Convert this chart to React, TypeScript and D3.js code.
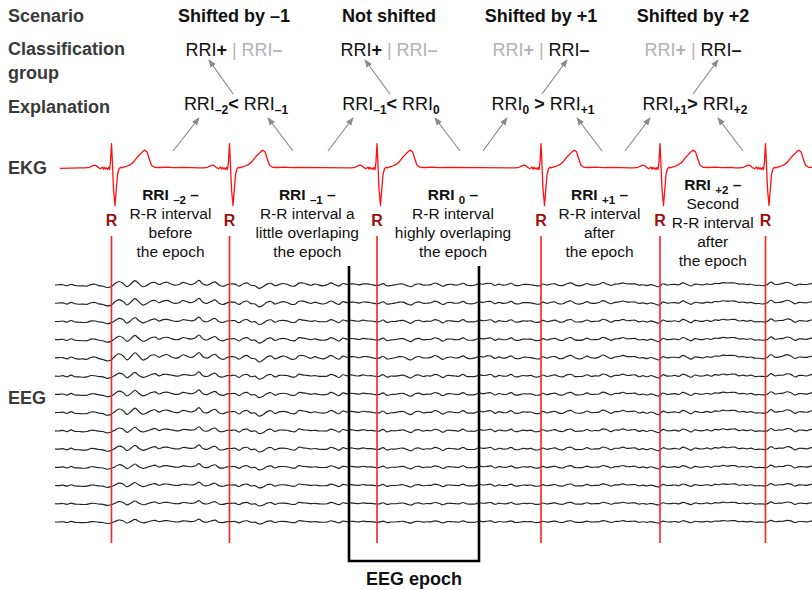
import React from 'react';
import * as d3 from 'd3';

// R peak times (seconds from start of recording) and EEG epoch window
const rPeaks = [0.565, 1.745, 3.22, 4.86, 6.05, 7.105];
const epochWindow = [2.94, 4.24];
const ekgStart = 0.05;
const tEnd = 7.57;

// one heartbeat around the R peak: [offset s, mV]
const beatTemplate: [number, number][] = [
  [-0.30, 0.02], [-0.26, 0.02], [-0.22, 0.05], [-0.19, 0.12], [-0.17, 0.15], [-0.15, 0.12],
  [-0.13, 0.03], [-0.11, -0.02], [-0.09, 0.06], [-0.08, -0.04], [-0.07, 0.05], [-0.06, -0.03],
  [-0.05, 0.02], [-0.04, -0.05], [-0.03, 0.04], [-0.02, -0.06], [-0.01, 0.3], [-0.005, 0.8],
  [0, 1.2], [0.008, 0.4], [0.02, -1.0], [0.035, -1.8], [0.045, -1.2], [0.06, -0.3],
  [0.075, -0.02], [0.09, 0.05], [0.1, 0.02], [0.12, 0.06], [0.15, 0.1], [0.18, 0.15],
  [0.22, 0.3], [0.26, 0.55], [0.3, 0.75], [0.33, 0.88], [0.355, 0.8], [0.375, 0.5],
  [0.4, 0.15], [0.43, 0.05], [0.48, 0.04], [0.55, 0.06], [0.62, 0.03], [0.7, 0.05],
];

// EEG: two component waveforms sampled every 0.04 s, mixed per channel
const eegStep = 0.04;
const waveA = [
  0, 0.5, 0, -0.5, 0.3, -0.2, -0.8, -0.3, -1, 0, 0.8, -0.5, -1.2, -1.8, -1.5,
  1.5, 2.5, 1, -1, 1, 3, 1.5, -1.5, -0.5, 2, 1.5, 0.5, 1.5, 2.5, 0.5, -0.5, 0.5, 2.5, 1, 0, 1.5, 3, 1, 0, 1, 2, 0.5, -1, 0,
  1, 0.5, -0.5, 0.5, 1.5, 0, -1, -2.5, -1, 0.5, 1, -0.5, 0, 1.5, 0.5, -1, -0.5, 1, 2, 0.5, -0.5, 1, 0, -1, 0.5, 1.5, 0, -0.5, 1, 0.5,
  0.5, 1, 0, 0.5, 1.2, 0.3, -0.5, 0, 0.8, -0.3, -0.8, 0.2, 1, 0.5, -0.5, -1, 0, 0.8, 0.3, -0.4, 0.5, 1.5, 0.2, -0.5, 0, 0.6, -0.2, 0.4, 1, 0, -0.6, 0.3, 0.8,
  0.5, 1.5, 0.8, 0, 0.5, -0.3, 0.3, 1, 0, -0.5, 0.2, 0.6, -0.2, 0, -0.8,
  0.5, 0, 1, 0.5, -0.5, 0, 0.8, 1.5, 0.5, -1, 0, 1, 0.3, -0.5, 0.8, 1.8, 0.5, 0, 0.5, 1, 1.3, 1, 0.8, 0.5, 0.3, 0, -0.3, 0, -0.5, -1,
  0.5, 0, 0.6, 0.2, 0.5, 1.5, 0.3, -0.5, 0.3, 0.5, 0, 0.5, 0.8, 1, 1.2, 1.5, 1.8, 1.5, 1.2, 1, 0.8, 0.5, 0.2, 0, -0.3, -0.8,
  0.5, 2, 0.5, 0.3, 1.5, 2, 0.8, 0, 0.5, 0.2, 0.5, 0.8, 0.3,
];
const waveB = [
  0, -0.8, 0.6, -0.3, 0.9, -0.5, 0.2, -1, 0.4, 0.8, -0.6, 0.1, 0.7, -0.4, 0.3,
  -1.2, 0.5, 1.1, -0.7, -0.2, 0.9, -1.3, 0.4, 0.6, -0.9, 1.2, -0.3, 0.2, -1, 0.8,
  1, -0.5, -1.4, 0.3, 0.9, -0.2, 1.5, -0.8, -0.4, 0.6, 1.1, -1.2, 0.2, 0.7, -0.6,
  0.4, -1, 0.9, 0.3, -0.7, 1.3, -0.4, -1.1, 0.5, 0.8, -0.3, 1, -0.9, 0.1, 0.6,
  -0.5, 1.2, -1.3, 0.4, 0.9, -0.6, -0.2, 1.1, -0.8, 0.3, 0.7, -1, 0.5, -0.2, 0.9,
  -0.7, 0.3, 1, -1.1, 0.2, 0.6, -0.4, 0.8, -0.9, 1.2, -0.3, -0.6, 0.7, 0.1, -1,
  0.9, 0.4, -0.8, 1.1, -0.5, 0.2, 0.6, -1.2, 0.8, -0.1, 0.5, -0.7, 1, -0.4, 0.3,
  -0.9, 0.7, 0.2, -0.6, 1.1, -1, 0.4, 0.5, -0.3, 0.9, -0.8, 0.1, 0.6, -0.5, 1.2,
  -1.1, 0.3, 0.8, -0.4, -0.7, 1, 0.2, -0.9, 0.6, 0.4, -1.2, 0.9, -0.2, 0.5, -0.6,
  1.1, -0.8, 0.3, 0.7, -1, 0.4, -0.3, 0.9, -0.5, 0.2, 1, -1.1, 0.6, -0.4, 0.8,
  -0.2, -0.9, 1.2, 0.1, -0.6, 0.7, -1, 0.5, 0.3, -0.8, 1.1, -0.4, 0.2, 0.9, -1.2,
  0.6, -0.3, 0.8, -0.7, 0.4, 1, -0.9, 0.2, -0.5, 1.1, -0.6, 0.3, 0.7, -1, 0.5,
  -0.2, 0.9, -0.8, 0.4, 1.2, -1.1, 0.3, 0.6, -0.4, 0.8, -0.3,
];
const gainA = [1.0, 1.05, 0.85, 0.95, 1.2, 0.8, 0.9, 1.0, 0.75, 0.8, 0.7, 0.65, 0.6, 0.55];
const gainB = [0.35, 0.4, 0.55, 0.5, 0.4, 0.6, 0.5, 0.55, 0.6, 0.55, 0.5, 0.45, 0.4, 0.35];

// text
const scenarios = ['Shifted by –1', 'Not shifted', 'Shifted by +1', 'Shifted by +2'];
const plusActive = [true, true, false, false];
const explanations = [
  { a: '–2', op: '<', b: '–1' },
  { a: '–1', op: '<', b: '0' },
  { a: '0', op: ' >', b: '+1' },
  { a: '+1', op: '>', b: '+2' },
];
const intervalLabels = [
  { sub: '–2', lines: ['R-R interval', 'before', 'the epoch'] },
  { sub: '–1', lines: ['R-R interval a', 'little overlaping', 'the epoch'] },
  { sub: '0', lines: ['R-R interval', 'highly overlaping', 'the epoch'] },
  { sub: '+1', lines: ['R-R interval', 'after', 'the epoch'] },
  { sub: '+2', lines: ['Second', 'R-R interval', 'after', 'the epoch'] },
];
const intervalNudge = [0, 4, -6, -1, 0];

// layout
const W = 812;
const H = 590;
const colX = [234, 389, 541, 693];
const classArrows = [[233, 94, 209, 60], [390, 94, 365, 60], [542, 94, 567, 60], [693, 94, 718, 60]];
const ekgArrows = [
  [173, 151, 199, 118], [293, 151, 268, 118], [328, 151, 353, 118], [460, 151, 435, 118],
  [483, 151, 507, 118], [602, 151, 577, 118], [625, 151, 650, 118], [743, 151, 718, 118],
];

const FONT = '"Liberation Sans", Arial, sans-serif';
const GRAY = '#b3b3b3';
const DARK = '#111';

const App: React.FC = () => {
  const x = d3.scaleLinear().domain([0, tEnd]).range([55, W]);
  const yEkg = d3.scaleLinear().domain([-1.8, 1.25]).range([205.5, 142.5]);
  const chans = d3.range(gainA.length);
  const yChan = d3.scalePoint<number>().domain(chans).range([285, 522]);
  const yAmp = d3.scaleLinear().domain([-1, 1]).range([1.3, -1.3]);

  // EKG points
  const ekgPts: [number, number][] = [[ekgStart, 0]];
  rPeaks.forEach(r => beatTemplate.forEach(([dt, v]) => ekgPts.push([r + dt, v])));
  const ekgLine = d3.line<[number, number]>()
    .x(d => x(d[0]))
    .y(d => yEkg(d[1]));

  const n = Math.min(waveA.length, waveB.length);
  const eegLine = (c: number) => d3.line<number>()
    .curve(d3.curveCatmullRom.alpha(0.5))
    .x(i => x(i * eegStep))
    .y(i => (yChan(c) as number) + yAmp(gainA[c] * waveA[i] + gainB[c] * waveB[i]))(d3.range(n));

  const lineTop = 236;
  const lineBot = 543;
  const boxTop = 266;
  const boxBot = 561;

  return (
    <svg width={W} height={H} style={{ position: 'absolute', left: 0, top: 0, background: '#fff' }}
      fontFamily={FONT}>
      <defs>
        <marker id="ah" viewBox="0 0 10 10" refX="9" refY="5" markerWidth="8" markerHeight="8"
          markerUnits="userSpaceOnUse" orient="auto">
          <path d="M0,1 L10,5 L0,9 z" fill="#8a8a8a" />
        </marker>
      </defs>

      {/* row labels */}
      <g fontWeight="bold" fontSize={18} fill="#3a3a3a">
        <text x={8} y={22}>Scenario</text>
        <text x={8} y={55}>Classification</text>
        <text x={8} y={79}>group</text>
        <text x={8} y={113}>Explanation</text>
        <text x={8} y={174}>EKG</text>
        <text x={8} y={404}>EEG</text>
      </g>

      {/* scenario headers */}
      {scenarios.map((s, i) => (
        <text key={s} x={colX[i]} y={22} textAnchor="middle" fontWeight="bold" fontSize={18} fill={DARK}>{s}</text>
      ))}

      {/* classification group */}
      {plusActive.map((p, i) => (
        <text key={i} x={colX[i]} y={56} textAnchor="middle" fontSize={18}>
          <tspan fill={p ? DARK : GRAY}>RRI</tspan>
          <tspan fill={p ? DARK : GRAY} fontWeight="bold">+</tspan>
          <tspan fill={GRAY}> | </tspan>
          <tspan fill={p ? GRAY : DARK}>RRI</tspan>
          <tspan fill={p ? GRAY : DARK} fontWeight="bold">–</tspan>
        </text>
      ))}

      {/* explanation */}
      {explanations.map((e, i) => (
        <text key={i} x={colX[i] + 2} y={110} textAnchor="middle" fontSize={18} fill={DARK}>
          <tspan>RRI</tspan>
          <tspan fontSize={12} fontWeight="bold" dy={4}>{e.a}</tspan>
          <tspan fontWeight="bold" dy={-4}>{e.op}</tspan>
          <tspan> RRI</tspan>
          <tspan fontSize={12} fontWeight="bold" dy={4}>{e.b}</tspan>
        </text>
      ))}

      {/* arrows */}
      <g stroke="#8a8a8a" strokeWidth={1.2}>
        {classArrows.concat(ekgArrows).map((a, i) => (
          <line key={i} x1={a[0]} y1={a[1]} x2={a[2]} y2={a[3]} markerEnd="url(#ah)" />
        ))}
      </g>

      {/* EEG traces */}
      <g fill="none" stroke="#222" strokeWidth={1.15} strokeLinejoin="round">
        {chans.map(c => <path key={c} d={eegLine(c) || ''} />)}
      </g>

      {/* EKG */}
      <path d={ekgLine(ekgPts) || ''} fill="none" stroke="#ff1010" strokeWidth={1.3} strokeLinejoin="round" />

      {/* R markers */}
      {rPeaks.map((r, i) => (
        <g key={i}>
          <line x1={x(r)} x2={x(r)} y1={lineTop} y2={lineBot} stroke="#ff2020" strokeWidth={1.6} />
          <text x={x(r)} y={226} textAnchor="middle" fontWeight="bold" fontSize={16} fill="#9b0f0f">R</text>
        </g>
      ))}

      {/* interval labels */}
      {intervalLabels.map((l, i) => {
        const cx = (x(rPeaks[i]) + x(rPeaks[i + 1])) / 2 + intervalNudge[i];
        const head = 200 - (l.lines.length - 3) * 10;
        return (
          <g key={i} fontSize={15.5} fill={DARK} textAnchor="middle">
            <text x={cx} y={head} fontWeight="bold">
              <tspan>RRI </tspan>
              <tspan fontSize={11.5} dy={4}>{l.sub}</tspan>
              <tspan dy={-4}> –</tspan>
            </text>
            {l.lines.map((t, k) => (
              <text key={k} x={cx} y={head + 19 * (k + 1)}>{t}</text>
            ))}
          </g>
        );
      })}

      {/* EEG epoch box */}
      <path
        d={`M${x(epochWindow[0])},${boxTop}V${boxBot}H${x(epochWindow[1])}V${boxTop}`}
        fill="none" stroke="#000" strokeWidth={2.6}
      />
      <text x={(x(epochWindow[0]) + x(epochWindow[1])) / 2} y={585} textAnchor="middle"
        fontWeight="bold" fontSize={18} fill={DARK}>EEG epoch</text>
    </svg>
  );
};

export default App;
